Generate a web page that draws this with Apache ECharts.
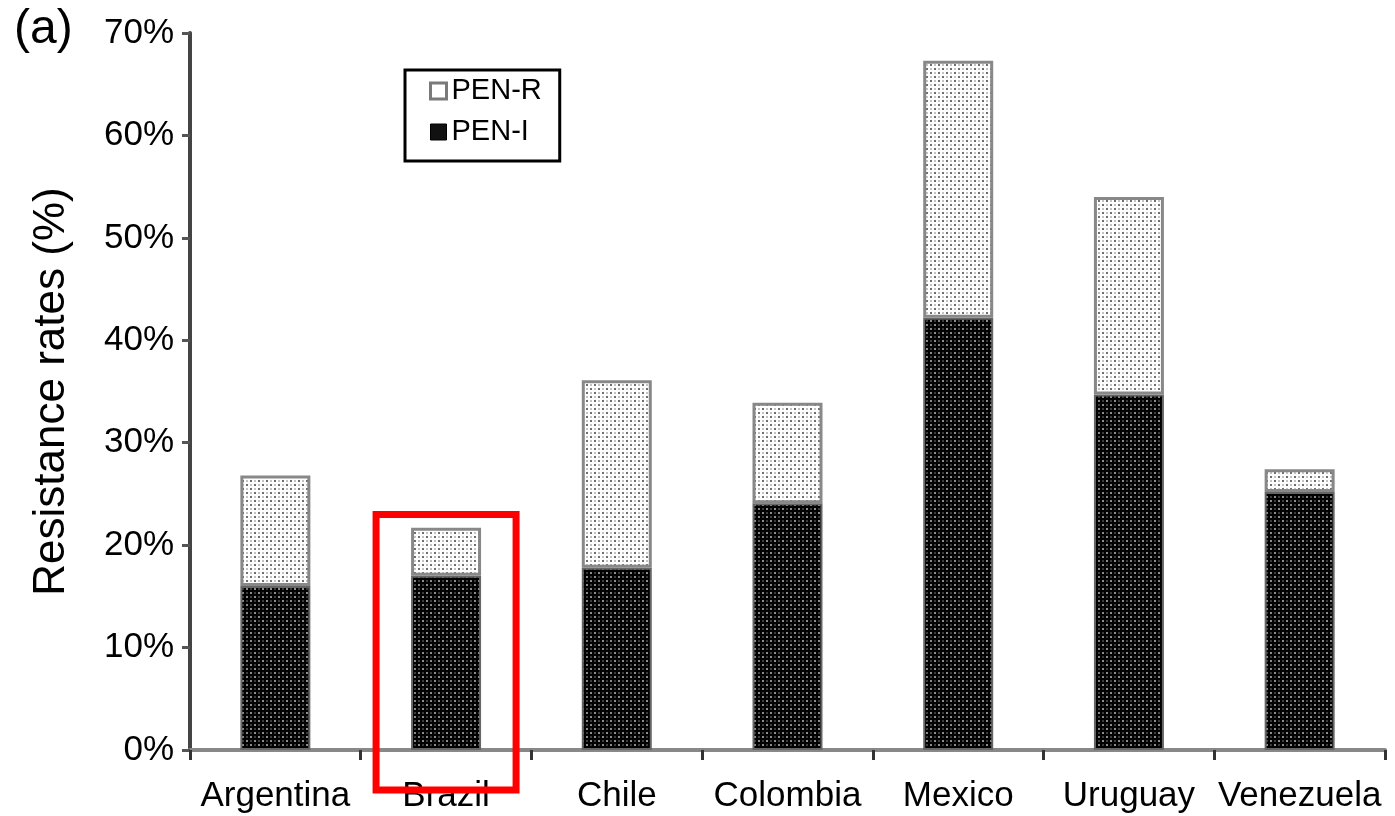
<!DOCTYPE html>
<html>
<head>
<meta charset="utf-8">
<script src="https://cdn.jsdelivr.net/npm/echarts@6/dist/echarts.min.js"></script>
<style>
  html, body { margin: 0; padding: 0; background: #fff; }
  #chart { width: 1395px; height: 816px; }
</style>
</head>
<body>
<div id="chart"></div>
<script>
// Penicillin resistance by country (stacked: intermediate + resistant)
const countries = ['Argentina', 'Brazil', 'Chile', 'Colombia', 'Mexico', 'Uruguay', 'Venezuela'];
const penI = [16.0, 17.0, 17.8, 24.1, 42.2, 34.7, 25.2];
const penR = [10.8, 4.7, 18.3, 9.8, 25.1, 19.3, 2.2];
const yTicks = [0, 10, 20, 30, 40, 50, 60, 70];
const highlighted = 'Brazil';

// Dotted fill patterns for the two segments
function dotPattern(bg, dark, light) {
  const c = document.createElement('canvas');
  c.width = 8; c.height = 8;
  const g = c.getContext('2d');
  g.fillStyle = bg; g.fillRect(0, 0, 8, 8);
  g.fillStyle = dark;
  g.fillRect(2, 0, 2, 2); g.fillRect(6, 4, 2, 2);
  g.fillStyle = light;
  g.fillRect(6, 0, 2, 2); g.fillRect(2, 4, 2, 2);
  return { image: c, repeat: 'repeat' };
}
const lightFill = dotPattern('#ffffff', '#6e6e6e', '#c4c4c4');
const darkFill = dotPattern('#000000', '#8c8c8c', '#3a3a3a');

const chart = echarts.init(document.getElementById('chart'), null, { renderer: 'canvas' });
const font = 'Liberation Sans, Arial, sans-serif';

chart.setOption({
  animation: false,
  backgroundColor: '#fff',
  grid: { left: 190, right: 10, top: 33, bottom: 66, containLabel: false },
  legend: {
    orient: 'vertical',
    left: 405, top: 70,
    padding: [6, 18, 14, 24],
    borderColor: '#000', borderWidth: 3,
    itemWidth: 16, itemHeight: 16, itemGap: 11,
    textStyle: { fontFamily: font, fontSize: 29, lineHeight: 30, color: '#000' },
    data: [
      { name: 'PEN-R', icon: 'rect', itemStyle: { color: '#ffffff', borderColor: '#7a7a7a', borderWidth: 3 } },
      { name: 'PEN-I', icon: 'rect', itemStyle: { color: '#111', borderColor: '#000', borderWidth: 1 } }
    ]
  },
  xAxis: {
    type: 'category',
    data: countries,
    axisLine: { lineStyle: { color: '#888', width: 4 } },
    axisTick: { show: true, interval: 0, length: 10, lineStyle: { color: '#333', width: 3 } },
    axisLabel: { interval: 0, fontFamily: font, fontSize: 35, color: '#000', margin: 29 }
  },
  yAxis: {
    type: 'value',
    min: 0, max: 70, interval: 10,
    name: 'Resistance rates (%)',
    nameLocation: 'middle',
    nameGap: 116,
    nameTextStyle: { fontFamily: font, fontSize: 44, color: '#000' },
    axisLine: { show: true, lineStyle: { color: '#444', width: 4 } },
    axisTick: { show: true, length: 8, lineStyle: { color: '#555', width: 3 } },
    axisLabel: {
      fontFamily: font, fontSize: 35, color: '#000', margin: 16,
      formatter: v => (yTicks.includes(v) ? v + '%' : '')
    },
    splitLine: { show: false }
  },
  series: [
    {
      name: 'PEN-I', type: 'bar', stack: 'pen',
      data: penI, barWidth: '41%',
      itemStyle: { color: darkFill, borderColor: '#666', borderWidth: 2 }
    },
    {
      name: 'PEN-R', type: 'bar', stack: 'pen',
      data: penR, barWidth: '41%',
      itemStyle: { color: lightFill, borderColor: '#888', borderWidth: 3 }
    }
  ]
});

// Panel letter and a red frame around the highlighted country's bar and label
const idx = countries.indexOf(highlighted);
const topPt = chart.convertToPixel({ gridIndex: 0 }, [idx, penI[idx] + penR[idx] + 1.3]);
const half = 70;
chart.setOption({
  graphic: [
    { type: 'text', left: 14, top: 6, style: { text: '(a)', font: '48px ' + font, fill: '#000' } },
    {
      type: 'rect',
      shape: { x: topPt[0] - half, y: topPt[1], width: half * 2, height: 790 - topPt[1] },
      style: { fill: 'none', stroke: '#ff0000', lineWidth: 7 },
      z: 100
    }
  ]
});
</script>
</body>
</html>
